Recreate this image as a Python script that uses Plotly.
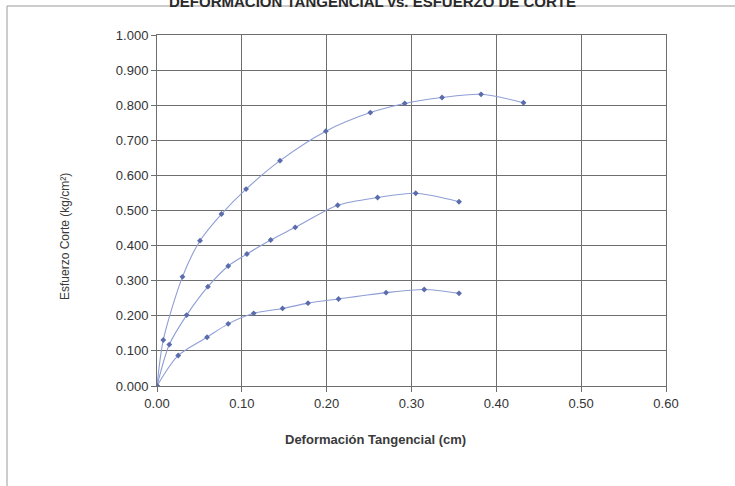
import plotly.graph_objects as go

# Deformación tangencial (cm) and esfuerzo de corte (kg/cm2) for three specimens
x_high = [0.0, 0.0074, 0.030, 0.0507, 0.076, 0.105, 0.145, 0.199, 0.2515, 0.292, 0.336, 0.382, 0.432]
y_high = [0.0, 0.131, 0.311, 0.414, 0.490, 0.561, 0.642, 0.726, 0.779, 0.805, 0.822, 0.831, 0.807]

x_mid = [0.0, 0.0145, 0.035, 0.060, 0.084, 0.106, 0.134, 0.163, 0.213, 0.260, 0.305, 0.356]
y_mid = [0.0, 0.118, 0.202, 0.283, 0.342, 0.376, 0.416, 0.452, 0.515, 0.537, 0.549, 0.525]

x_low = [0.0, 0.025, 0.059, 0.084, 0.114, 0.148, 0.178, 0.214, 0.270, 0.315, 0.356]
y_low = [0.0, 0.087, 0.139, 0.177, 0.207, 0.221, 0.236, 0.248, 0.266, 0.275, 0.264]

x_ticks = [0.0, 0.1, 0.2, 0.3, 0.4, 0.5, 0.6]
x_tick_labels = ["0.00", "0.10", "0.20", "0.30", "0.40", "0.50", "0.60"]
y_ticks = [0.0, 0.1, 0.2, 0.3, 0.4, 0.5, 0.6, 0.7, 0.8, 0.9, 1.0]
y_tick_labels = ["0.000", "0.100", "0.200", "0.300", "0.400", "0.500",
                 "0.600", "0.700", "0.800", "0.900", "1.000"]

title_text = "DEFORMACION TANGENCIAL vs. ESFUERZO DE CORTE"
x_title = "Deformación Tangencial (cm)"
y_title = "Esfuerzo Corte (kg/cm²)"

LINE = "#8e9ed6"
MARK = "#5a6cab"
FONT = "Liberation Sans, Arial, sans-serif"

fig = go.Figure()
for xs, ys in [(x_high, y_high), (x_mid, y_mid), (x_low, y_low)]:
    fig.add_trace(go.Scatter(
        x=xs, y=ys, mode="lines+markers",
        line=dict(color=LINE, width=1.1, shape="spline", smoothing=0.8),
        marker=dict(symbol="diamond", size=4.5, color=MARK),
        showlegend=False, hoverinfo="x+y",
    ))

W, H = 735, 486
L, R, T, B = 157, 69, 35, 100
pw, ph = W - L - R, H - T - B

def px_x(p):
    return (p - L) / pw

def px_y(p):
    return 1 - (p - T) / ph

fig.update_layout(
    width=W, height=H,
    margin=dict(l=L, r=R, t=T, b=B, pad=0),
    paper_bgcolor="white", plot_bgcolor="white",
    font=dict(family=FONT, color="#3a3a3a"),
    xaxis=dict(
        range=[0, 0.6], tickvals=x_ticks, ticktext=x_tick_labels,
        showgrid=True, gridcolor="#6e6e6e", gridwidth=1,
        showline=True, linecolor="#6e6e6e", linewidth=1, mirror=True,
        ticks="outside", ticklen=5, tickcolor="#6e6e6e",
        tickfont=dict(size=13, color="#333333"), zeroline=False,
    ),
    yaxis=dict(
        range=[0, 1.0], tickvals=y_ticks, ticktext=y_tick_labels,
        showgrid=True, gridcolor="#6e6e6e", gridwidth=1,
        showline=True, linecolor="#6e6e6e", linewidth=1, mirror=True,
        ticks="outside", ticklen=5, tickcolor="#6e6e6e",
        tickfont=dict(size=13, color="#333333"), zeroline=False,
    ),
)

# outer chart frame
fig.add_shape(type="rect", xref="paper", yref="paper",
              x0=px_x(7), x1=px_x(760), y0=px_y(520), y1=px_y(6),
              line=dict(color="#9a9a9a", width=1), layer="below")

fig.add_annotation(text="<b>" + title_text + "</b>", xref="paper", yref="paper",
                   x=px_x(372), y=px_y(1), xanchor="center", yanchor="middle",
                   showarrow=False, font=dict(size=15, color="#2a2a2a", family=FONT))
fig.add_annotation(text="<b>" + x_title + "</b>", xref="paper", yref="paper",
                   x=px_x(375), y=px_y(440), xanchor="center", yanchor="middle",
                   showarrow=False, font=dict(size=13, color="#3a3a3a", family=FONT))
fig.add_annotation(text=y_title, xref="paper", yref="paper", textangle=-90,
                   x=px_x(65), y=px_y(237), xanchor="center", yanchor="middle",
                   showarrow=False, font=dict(size=12, color="#3a3a3a", family=FONT))

fig.write_html("out.html")
